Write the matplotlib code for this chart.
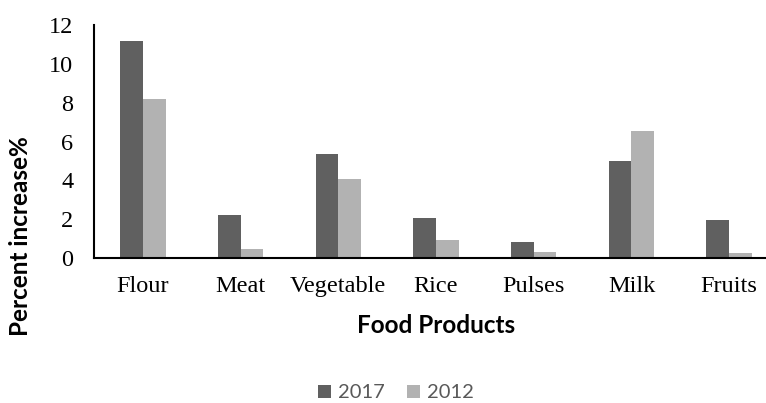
import numpy as np
import matplotlib.pyplot as plt

# data
categories = ["Flour", "Meat", "Vegetable", "Rice", "Pulses", "Milk", "Fruits"]
series_2017 = [11.2, 2.2, 5.35, 2.08, 0.81, 5.0, 1.96]
series_2012 = [8.2, 0.47, 4.1, 0.93, 0.32, 6.55, 0.27]
years = ["2017", "2012"]
yticks = [0, 2, 4, 6, 8, 10, 12]

c_dark = "#606060"
c_light = "#b2b2b2"

fig = plt.figure(figsize=(7.66, 4.03), dpi=100)
# axes runs slightly past the right edge, like the cropped original
ax = fig.add_axes([94 / 766, 145 / 403, 684 / 766, 232.6 / 403])

x = np.arange(len(categories))
w = 0.232
ax.bar(x - w / 2, series_2017, width=w, color=c_dark, label=years[0])
ax.bar(x + w / 2, series_2012, width=w, color=c_light, label=years[1])

ax.set_xlim(-0.5, len(categories) - 0.5)
ax.set_ylim(0, 12)
ax.set_yticks(yticks)
ax.set_xticks(x)
ax.set_xticklabels(categories)

for s in ["top", "right"]:
    ax.spines[s].set_visible(False)
ax.spines["left"].set_linewidth(1.5)
ax.spines["bottom"].set_linewidth(1.5)

ax.tick_params(axis="both", length=0)
ax.tick_params(axis="x", pad=13)
ax.tick_params(axis="y", pad=15)
for lbl in ax.get_xticklabels() + ax.get_yticklabels():
    lbl.set_family("Liberation Serif")
    lbl.set_fontsize(17.5)

ax.set_xlabel("Food Products", fontsize=17.5, fontweight="bold", family="Lato", labelpad=12)
# y label sits low in the original, so place it by hand
fig.text(21 / 766, 1 - 236 / 403, "Percent increase%", rotation=90, ha="center", va="center",
         fontsize=17.5, fontweight="bold", family="Lato")

leg = fig.legend(loc="center", bbox_to_anchor=(396 / 766, 1 - 393 / 403), ncol=2,
                 frameon=False, handlelength=0.65, handleheight=0.65,
                 columnspacing=1.1, handletextpad=0.35, borderpad=0.2,
                 prop={"family": "Lato", "size": 14.5})
for t in leg.get_texts():
    t.set_color("#595959")

fig.savefig("out.png", dpi=100)
